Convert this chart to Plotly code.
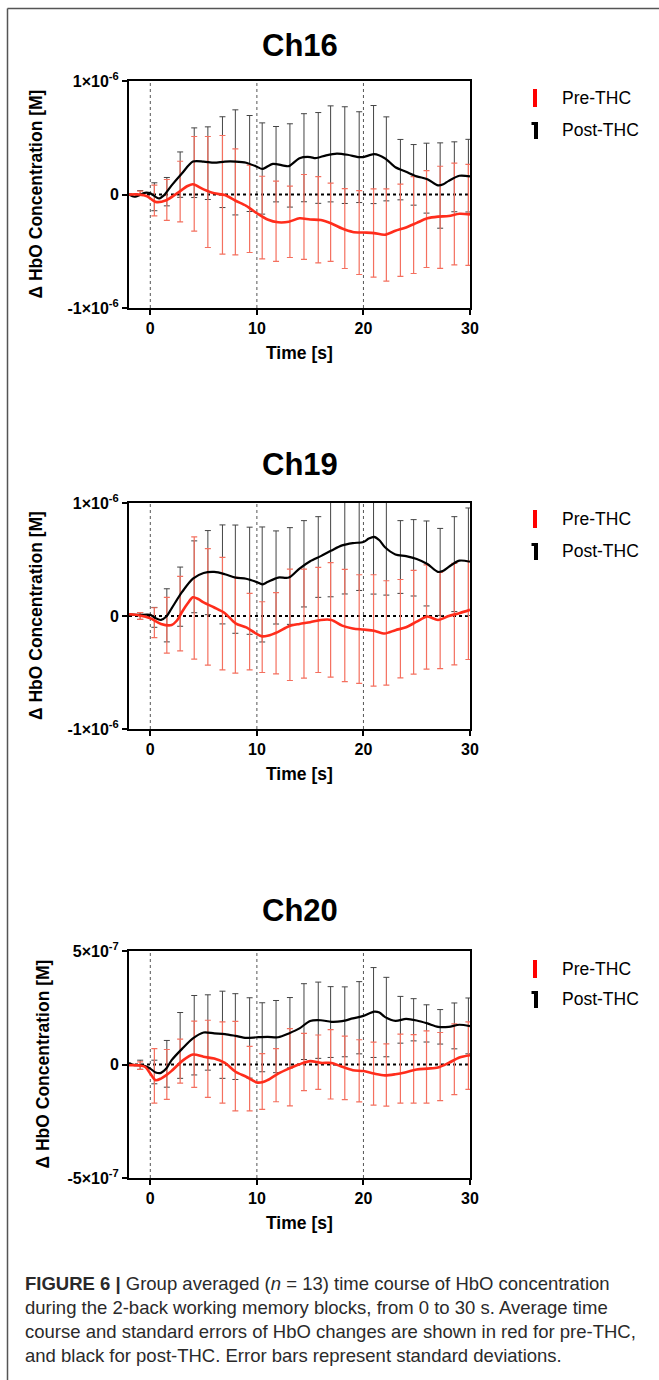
import plotly.graph_objects as go

W, H = 659, 1380
FONT = "Liberation Sans"

# ---------------- data (Ch16 / Ch19 in 1e-6 M, Ch20 in 1e-7 M) ----------------
T16_POST = [-2, -1.5, -0.5, 0, 0.8, 1.3, 2, 3, 4, 5, 6, 7, 8, 9, 10, 10.5, 11.5, 12.5, 13, 14, 15, 15.5,
            16.5, 17.5, 18.5, 19.5, 20, 21, 22, 23, 24, 25, 26, 27, 27.5, 28, 29, 30]
POST16 = [0, -0.02, 0.015, 0.01, -0.035, -0.005, 0.08, 0.19, 0.29, 0.29, 0.28, 0.29, 0.29, 0.28,
          0.245, 0.225, 0.27, 0.255, 0.25, 0.32, 0.33, 0.32, 0.345, 0.36, 0.35, 0.33, 0.33,
          0.355, 0.32, 0.24, 0.2, 0.16, 0.135, 0.08, 0.09, 0.12, 0.165, 0.16]
T16_PRE = [-2, -1, -0.3, 0.5, 1.5, 2.5, 3.5, 4, 5, 6, 7, 8, 9, 10, 11, 12, 13, 14, 15, 16, 17, 18, 19,
           20, 21, 22, 23, 24, 25, 26, 27, 28, 29, 30]
PRE16 = [0, 0, -0.015, -0.065, -0.05, 0.01, 0.075, 0.09, 0.045, 0.01, -0.005, -0.055, -0.10, -0.165,
         -0.22, -0.245, -0.24, -0.21, -0.22, -0.225, -0.255, -0.30, -0.33, -0.335, -0.34, -0.355,
         -0.32, -0.29, -0.25, -0.21, -0.195, -0.19, -0.17, -0.175]

T19_POST = [-2, -1, 0, 0.5, 1, 1.5, 2, 3, 4, 5, 6, 7, 8, 9, 10, 10.5, 11, 12, 13, 14, 15, 16, 17, 18,
            19, 20, 20.5, 21, 21.5, 22, 23, 24, 25, 26, 27, 27.5, 28, 29, 30]
POST19 = [0.015, 0.01, 0.01, -0.02, -0.035, -0.005, 0.068, 0.215, 0.33, 0.38, 0.39, 0.37, 0.34, 0.33,
          0.3, 0.28, 0.3, 0.34, 0.34, 0.42, 0.485, 0.53, 0.58, 0.625, 0.645, 0.655, 0.685, 0.7, 0.67,
          0.61, 0.545, 0.53, 0.505, 0.46, 0.39, 0.4, 0.435, 0.49, 0.48]
T19_PRE = [-2, -1, 0, 1, 2, 2.5, 3, 3.5, 4, 4.5, 5, 6, 7, 8, 9, 10, 10.5, 11, 12, 13, 14, 15, 16, 17,
           18, 19, 20, 21, 22, 23, 24, 25, 26, 27, 28, 29, 30]
PRE19 = [0.015, 0.005, -0.02, -0.07, -0.08, -0.04, 0.04, 0.11, 0.165, 0.15, 0.12, 0.075, 0.025, -0.065,
         -0.1, -0.16, -0.18, -0.175, -0.14, -0.09, -0.07, -0.055, -0.035, -0.035, -0.085, -0.11, -0.12,
         -0.13, -0.155, -0.125, -0.1, -0.05, -0.005, -0.035, 0, 0.025, 0.055]

T20_POST = [-2, -1.5, -1, -0.5, 0, 0.5, 1, 1.5, 2, 3, 4, 5, 6, 7, 8, 9, 10, 11, 12, 13, 14, 15, 16, 17,
            18, 19, 20, 21, 21.5, 22, 23, 24, 25, 26, 27, 28, 29, 30]
POST20 = [0.07, -0.03, -0.03, -0.07, -0.18, -0.35, -0.37, -0.18, 0.19, 0.7, 1.15, 1.41, 1.37, 1.34, 1.26,
          1.17, 1.2, 1.22, 1.2, 1.37, 1.59, 1.92, 1.95, 1.88, 1.91, 2.03, 2.14, 2.33, 2.29, 2.1, 1.92,
          2.01, 1.94, 1.81, 1.66, 1.66, 1.75, 1.69]
T20_PRE = [-2, -1, -0.5, 0, 0.5, 1, 1.5, 2, 3, 4, 5, 6, 7, 8, 9, 10, 10.5, 11, 12, 13, 14, 15, 16, 17,
           18, 19, 20, 21, 22, 23, 24, 25, 26, 27, 28, 29, 30]
PRE20 = [-0.03, -0.04, -0.1, -0.4, -0.69, -0.62, -0.47, -0.28, 0.16, 0.44, 0.34, 0.26, 0.07, -0.32, -0.54,
         -0.79, -0.78, -0.69, -0.4, -0.18, 0.01, 0.15, 0.07, 0.07, -0.1, -0.25, -0.29, -0.4, -0.48, -0.43,
         -0.34, -0.22, -0.18, -0.13, 0.07, 0.31, 0.41]

# error-bar sample times, centre values and half-lengths (SD)
ERR_T = [-0.95, 0.38, 1.55, 2.8, 4.12, 5.4, 6.77, 7.98, 9.32, 10.5, 11.8, 13.1, 14.42, 15.76, 16.92,
         18.25, 19.6, 20.95, 22.15, 23.47, 24.71, 25.92, 27.2, 28.53, 29.85]

EC16_POST = [0.015, -0.02, 0.025, 0.175, 0.28, 0.276, 0.285, 0.283, 0.273, 0.229, 0.267, 0.256, 0.324,
             0.322, 0.358, 0.347, 0.329, 0.352, 0.314, 0.219, 0.173, 0.144, 0.079, 0.156, 0.166]
SD16_POST = [0.02, 0.123, 0.125, 0.2, 0.307, 0.32, 0.4, 0.463, 0.423, 0.402, 0.332, 0.367, 0.388, 0.4,
             0.423, 0.426, 0.4, 0.432, 0.37, 0.266, 0.267, 0.308, 0.376, 0.308, 0.32]
EC16_PRE = [0.01, -0.053, -0.048, 0.026, 0.094, 0.022, -0.003, -0.065, -0.126, -0.203, -0.236, -0.241,
            -0.198, -0.222, -0.245, -0.3, -0.335, -0.339, -0.357, -0.315, -0.269, -0.216, -0.201, -0.172,
            -0.18]
SD16_PRE = [0.02, 0.135, 0.18, 0.267, 0.417, 0.489, 0.523, 0.467, 0.385, 0.364, 0.354, 0.314, 0.374, 0.38,
            0.345, 0.352, 0.37, 0.389, 0.407, 0.407, 0.427, 0.427, 0.45, 0.448, 0.445]

EC19_POST = [0.0, -0.012, 0.006, 0.171, 0.347, 0.384, 0.368, 0.326, 0.312, 0.279, 0.341, 0.354, 0.462,
             0.522, 0.59, 0.635, 0.65, 0.7, 0.6, 0.522, 0.515, 0.465, 0.39, 0.459, 0.48]
SD19_POST = [0.03, 0.088, 0.235, 0.262, 0.318, 0.372, 0.438, 0.479, 0.474, 0.509, 0.412, 0.428, 0.382,
             0.357, 0.42, 0.44, 0.424, 0.506, 0.415, 0.322, 0.338, 0.376, 0.385, 0.42, 0.476]
EC19_PRE = [0.0, -0.059, -0.082, 0.021, 0.159, 0.081, 0.021, -0.082, -0.138, -0.187, -0.153, -0.078,
            -0.068, -0.035, -0.034, -0.084, -0.116, -0.128, -0.15, -0.112, -0.056, -0.009, -0.04, 0.016,
            0.05]
SD19_PRE = [0.03, 0.132, 0.247, 0.33, 0.541, 0.516, 0.497, 0.424, 0.338, 0.313, 0.359, 0.493, 0.482, 0.465,
            0.507, 0.496, 0.481, 0.493, 0.462, 0.435, 0.459, 0.462, 0.425, 0.449, 0.435]

EC20_POST = [-0.01, -0.33, 0.03, 0.84, 1.29, 1.41, 1.31, 1.23, 1.17, 1.2, 1.23, 1.4, 1.89, 1.95, 1.87,
             1.88, 2.06, 2.29, 2.09, 1.97, 1.97, 1.81, 1.66, 1.7, 1.7]
SD20_POST = [0.2, 0.52, 1.03, 1.45, 1.75, 1.66, 1.92, 1.89, 1.77, 1.52, 1.59, 1.55, 1.67, 1.68, 1.56, 1.54,
             1.59, 1.98, 1.75, 1.03, 0.93, 0.82, 0.76, 1.01, 1.23]
EC20_PRE = [-0.05, -0.5, -0.44, 0.15, 0.45, 0.25, 0.09, -0.07, -0.62, -0.75, -0.47, -0.12, 0.11, 0.1, 0.01,
            -0.15, -0.28, -0.4, -0.46, -0.18, -0.19, -0.11, -0.09, 0.23, 0.39]
SD20_PRE = [0.17, 1.2, 1.1, 0.97, 1.46, 1.7, 1.79, 1.97, 1.42, 1.23, 1.17, 1.7, 1.26, 1.2, 1.53, 1.4, 1.37,
            1.39, 1.37, 1.52, 1.51, 1.59, 1.5, 1.56, 1.49]

TITLES = ["Ch16", "Ch19", "Ch20"]
SCALES = [1e-6, 1e-6, 1e-7]
YLIMS = [1e-6, 1e-6, 5e-7]
YTICKTEXT = [["-1×10<sup>-6</sup>", "0", "1×10<sup>-6</sup>"],
             ["-1×10<sup>-6</sup>", "0", "1×10<sup>-6</sup>"],
             ["-5×10<sup>-7</sup>", "0", "5×10<sup>-7</sup>"]]
XTICKS = [0, 10, 20, 30]
SERIES_NAMES = ["Pre-THC", "Post-THC"]

PANELS = [
    (T16_PRE, PRE16, T16_POST, POST16, EC16_PRE, SD16_PRE, EC16_POST, SD16_POST),
    (T19_PRE, PRE19, T19_POST, POST19, EC19_PRE, SD19_PRE, EC19_POST, SD19_POST),
    (T20_PRE, PRE20, T20_POST, POST20, EC20_PRE, SD20_PRE, EC20_POST, SD20_POST),
]

CAPTION = [
    "<b>FIGURE 6 |</b> Group averaged (<i>n</i> = 13) time course of HbO concentration",
    "during the 2-back working memory blocks, from 0 to 30 s. Average time",
    "course and standard errors of HbO changes are shown in red for pre-THC,",
    "and black for post-THC. Error bars represent standard deviations.",
]

# ---------------- layout geometry (pixels) ----------------
PLOT_X = (129, 470)
PLOT_Y = [(81, 308), (503, 729), (951, 1178)]
TITLE_Y = [45, 465, 910]
YTITLE_X = [36, 36, 42]
LEG_Y = [(98, 130), (519, 551), (969, 999)]

RED_LINE = "#ff2d1c"
RED_BAR = "#f4705f"
BLACK_LINE = "#000000"
BLACK_BAR = "#444444"


def px(x):
    return x / W


def py(y):
    return 1 - y / H


fig = go.Figure()
layout = dict(
    width=W, height=H, margin=dict(l=0, r=0, t=0, b=0, pad=0, autoexpand=False),
    paper_bgcolor="white", plot_bgcolor="white", showlegend=False,
    font=dict(family=FONT, color="black"),
)
shapes = []
annotations = []

for i, (tpre, pre, tpost, post, ecpre, sdpre, ecpost, sdpost) in enumerate(PANELS):
    sfx = "" if i == 0 else str(i + 1)
    xa, ya = "x" + sfx, "y" + sfx
    s = SCALES[i]
    # black error bars, red error bars, black line, red line
    fig.add_trace(go.Scatter(
        x=ERR_T, y=[v * s for v in ecpost], mode="markers", xaxis=xa, yaxis=ya,
        marker=dict(size=1, color="rgba(0,0,0,0)"), hoverinfo="skip",
        error_y=dict(type="data", array=[v * s for v in sdpost], color=BLACK_BAR, thickness=1, width=3)))
    fig.add_trace(go.Scatter(
        x=ERR_T, y=[v * s for v in ecpre], mode="markers", xaxis=xa, yaxis=ya,
        marker=dict(size=1, color="rgba(0,0,0,0)"), hoverinfo="skip",
        error_y=dict(type="data", array=[v * s for v in sdpre], color=RED_BAR, thickness=1.2, width=3)))
    fig.add_trace(go.Scatter(
        x=tpost, y=[v * s for v in post], mode="lines", xaxis=xa, yaxis=ya, name=SERIES_NAMES[1],
        line=dict(color=BLACK_LINE, width=2.2, shape="spline", smoothing=0.8)))
    fig.add_trace(go.Scatter(
        x=tpre, y=[v * s for v in pre], mode="lines", xaxis=xa, yaxis=ya, name=SERIES_NAMES[0],
        line=dict(color=RED_LINE, width=2.6, shape="spline", smoothing=0.8)))

    y0, y1 = PLOT_Y[i]
    lim = YLIMS[i]
    layout["xaxis" + sfx] = dict(
        domain=[px(PLOT_X[0]), px(PLOT_X[1])], anchor=ya, range=[-2, 30], automargin=False,
        tickvals=XTICKS, ticktext=[str(v) for v in XTICKS],
        showline=True, linecolor="black", linewidth=2, mirror=True,
        ticks="outside", ticklen=5, tickwidth=2, tickcolor="black",
        showgrid=False, zeroline=False,
        tickfont=dict(family=FONT, size=16, color="black", weight="bold"),
    )
    layout["yaxis" + sfx] = dict(
        domain=[py(y1), py(y0)], anchor=xa, range=[-lim, lim], automargin=False,
        tickvals=[-lim, 0, lim], ticktext=YTICKTEXT[i],
        showline=True, linecolor="black", linewidth=2, mirror=True,
        ticks="outside", ticklen=5, tickwidth=2, tickcolor="black",
        showgrid=False, zeroline=False,
        tickfont=dict(family=FONT, size=16, color="black", weight="bold"),
    )
    # reference lines
    for xv in XTICKS[:3]:
        shapes.append(dict(type="line", xref=xa, yref=ya + " domain", x0=xv, x1=xv, y0=0, y1=1,
                           line=dict(color="#555555", width=1, dash="dot"), layer="below"))
    shapes.append(dict(type="line", xref=xa + " domain", yref=ya, x0=0, x1=1, y0=0, y1=0,
                       line=dict(color="black", width=2, dash="dot"), layer="below"))

    cx = px((PLOT_X[0] + PLOT_X[1]) / 2)
    annotations.append(dict(text="<b>" + TITLES[i] + "</b>", x=cx, y=py(TITLE_Y[i]), xref="paper",
                            yref="paper", showarrow=False, xanchor="center", yanchor="middle",
                            font=dict(family=FONT, size=31, color="black")))
    annotations.append(dict(text="<b>Time [s]</b>", x=cx, y=py(y1 + 45), xref="paper", yref="paper",
                            showarrow=False, xanchor="center", yanchor="middle",
                            font=dict(family=FONT, size=17.5, color="black")))
    annotations.append(dict(text="<b>Δ HbO Concentration [M]</b>", x=px(YTITLE_X[i]),
                            y=py((y0 + y1) / 2), xref="paper", yref="paper", showarrow=False,
                            textangle=-90, xanchor="center", yanchor="middle",
                            font=dict(family=FONT, size=17.5, color="black")))
    # legend
    ly_pre, ly_post = LEG_Y[i]
    shapes.append(dict(type="rect", xref="paper", yref="paper", x0=px(533), x1=px(537),
                       y0=py(ly_pre + 9), y1=py(ly_pre - 9), fillcolor="#ff0000", line=dict(width=0)))
    shapes.append(dict(type="rect", xref="paper", yref="paper", x0=px(534), x1=px(538),
                       y0=py(ly_post + 9), y1=py(ly_post - 8), fillcolor="black", line=dict(width=0)))
    shapes.append(dict(type="rect", xref="paper", yref="paper", x0=px(531.5), x1=px(534),
                       y0=py(ly_post - 5), y1=py(ly_post - 8), fillcolor="black", line=dict(width=0)))
    for name, ly in zip(SERIES_NAMES, (ly_pre, ly_post)):
        annotations.append(dict(text=name, x=px(560), y=py(ly), xref="paper", yref="paper",
                                showarrow=False, xanchor="left", yanchor="middle",
                                font=dict(family=FONT, size=17.5, color="black")))

# caption
for k, line in enumerate(CAPTION):
    annotations.append(dict(text=line, x=px(23), y=py(1283 + 24 * k), xref="paper", yref="paper",
                            showarrow=False, xanchor="left", yanchor="middle",
                            font=dict(family=FONT, size=18.5, color="#2a2a2a")))

# figure frame
shapes.append(dict(type="line", xref="paper", yref="paper", x0=px(7.5), x1=1, y0=py(8.5), y1=py(8.5),
                   line=dict(color="#555555", width=1.5)))
shapes.append(dict(type="line", xref="paper", yref="paper", x0=px(7.5), x1=px(7.5), y0=0, y1=py(8.5),
                   line=dict(color="#555555", width=1.5)))

layout["shapes"] = shapes
layout["annotations"] = annotations
fig.update_layout(**layout)

fig.write_html("out.html", config={"displayModeBar": False},
               post_script="document.body.style.margin='0px';document.body.style.padding='0px';")
